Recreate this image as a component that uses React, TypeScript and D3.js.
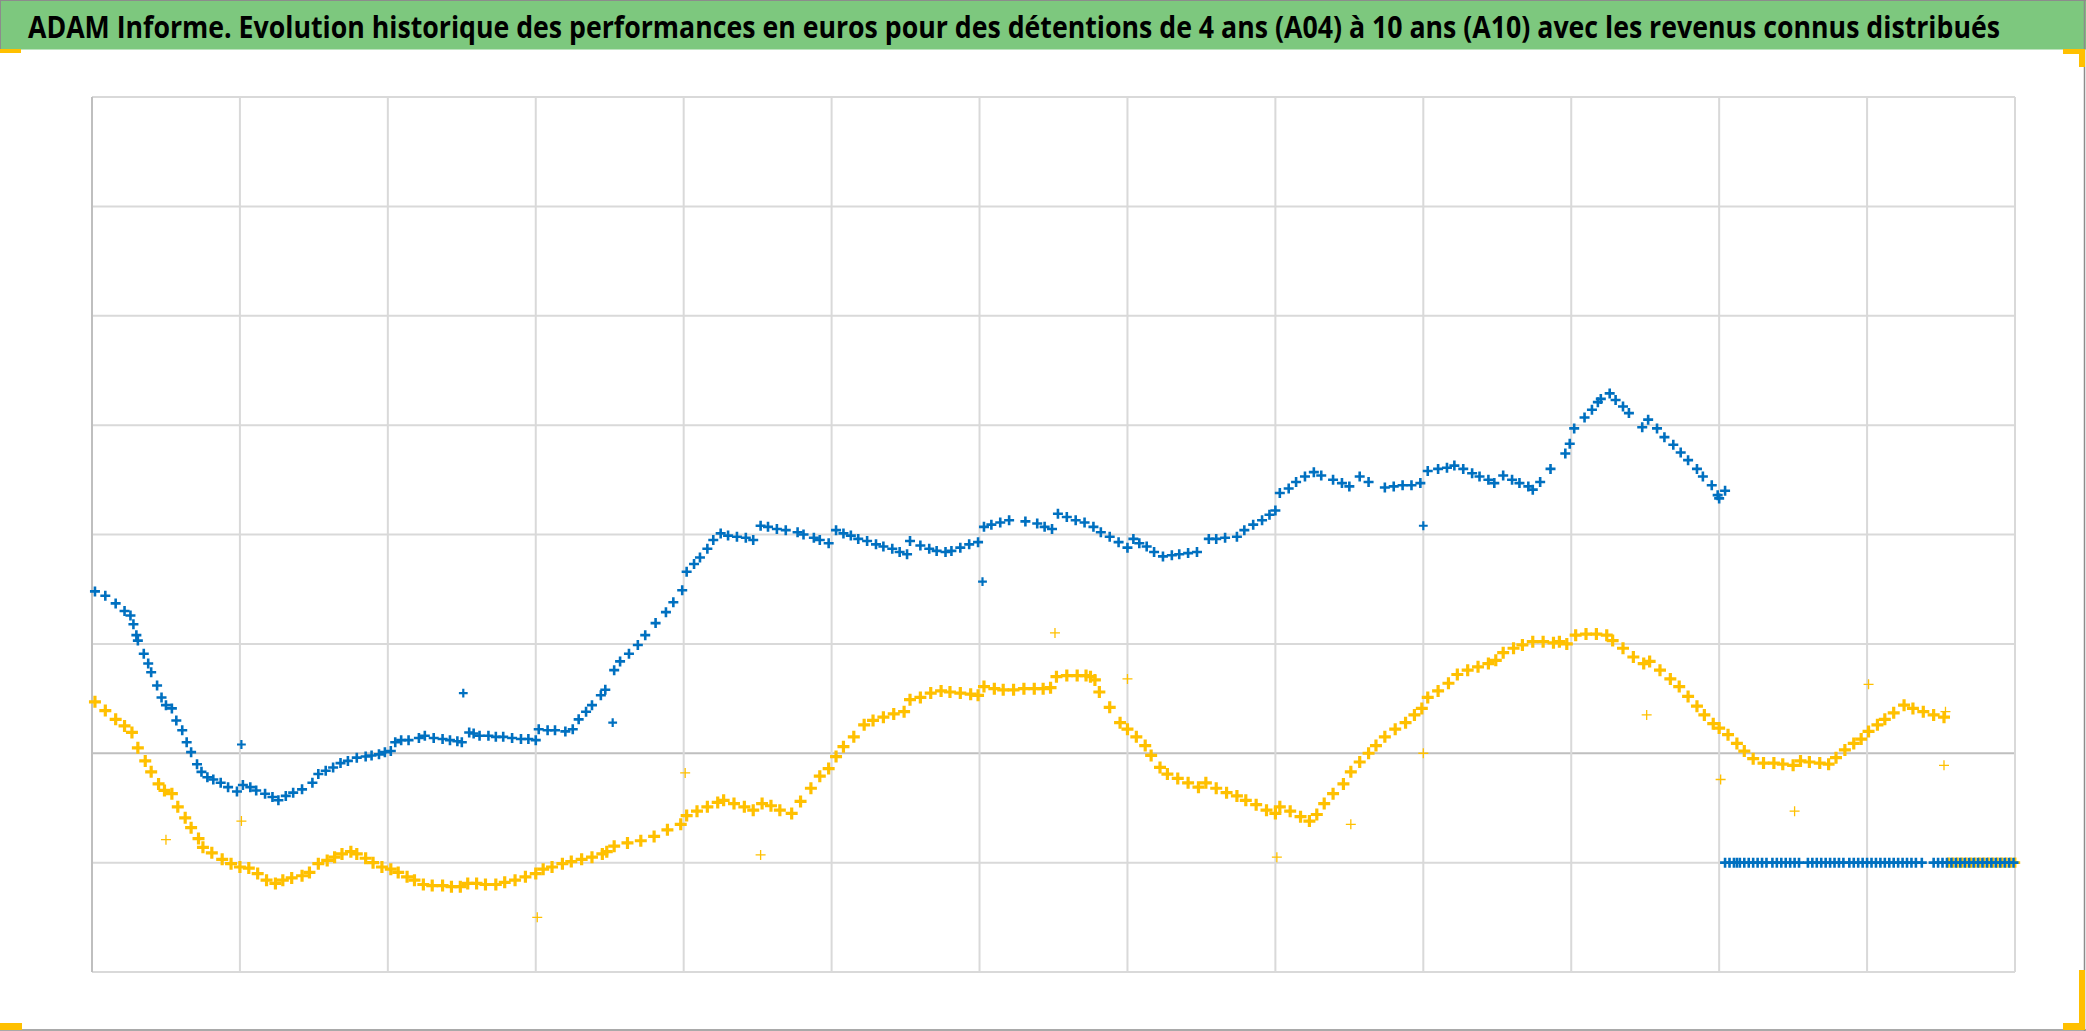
import React from "react";
import * as d3 from "d3";

const TITLE =
  "ADAM Informe. Evolution historique des performances en euros pour des détentions de 4 ans (A04) à 10 ans (A10) avec les revenus connus distribués";

const xTicks = d3.range(0, 1301, 100);
const yTicks = d3.range(-200, 601, 100);

// Series A (blue) : [time index, performance]
const bluePoints: [number, number][] = [
  [2,148],[9,144],[16,137],[22,130],[26,126],[28,118],[30,108],[31,103],[35,91],[38,82],[40,74],[44,62],[47,51],[50,44],[54,41],[57,30],[61,21],[64,10],[67,1],[71,-10],[74,-17],[78,-22],[82,-24],[87,-27],[92,-31],[98,-35],[102,-29],[107,-31],[111,-34],[117,-37],[122,-40],[126,-43],[131,-39],[136,-36],[142,-33],[149,-27],[153,-19],[158,-16],[163,-13],[168,-9],[173,-7],[179,-4],[185,-3],[189,-2],[194,-1],[198,1],[202,2],[205,10],[209,12],[214,12],[221,14],[225,16],[231,14],[237,13],[242,12],[247,11],[250,10],[255,19],[258,18],[262,16],[268,16],[273,15],[278,15],[284,14],[290,13],[295,13],[300,12],[302,22],[308,21],[313,21],[320,20],[325,22],[329,31],[334,38],[338,44],[344,53],[347,58],
  [353,76],[357,84],[363,91],[369,99],[374,108],[381,119],[388,129],[393,138],[399,149],[402,166],[407,173],[411,179],[416,187],[420,195],[425,201],[430,199],[436,198],[442,197],[447,195],[452,208],[457,207],[463,205],[469,204],[477,202],[481,200],[488,197],[492,195],[498,192],[503,204],[508,201],[513,199],[518,196],[524,194],[530,191],[535,189],[541,187],[546,184],[551,182],[553,194],[560,190],[566,187],[571,185],[577,184],[581,185],[587,188],[593,191],[599,193],[603,207],[608,209],[614,211],[620,213],[631,212],[639,210],[644,207],[649,205],[653,219],[659,216],[665,213],[671,211],[677,207],
  [682,202],[688,198],[694,193],[700,188],[704,196],[708,192],[713,189],[718,184],[724,180],[730,181],[735,182],[741,183],[747,184],[755,196],[760,196],[766,197],[774,198],[779,204],[785,209],[791,213],[796,218],[800,222],[803,238],[809,242],[814,248],[820,253],[826,257],[831,254],[839,250],[845,247],[850,244],[857,253],[863,248],[874,243],[880,244],[886,245],[892,245],[898,247],[903,258],[910,260],[916,261],[921,263],[927,260],[933,256],[938,253],[944,250],[948,247],[954,254],[960,250],[965,247],[971,244],[974,241],[979,248],[986,260],[996,274],
  [999,283],[1002,297],[1009,307],[1014,314],[1018,321],[1020,324],[1026,329],[1030,323],[1035,317],[1039,311],[1048,298],[1052,305],[1058,297],[1063,289],[1069,282],[1074,275],[1079,268],[1085,260],[1089,253],[1095,245],[1099,236],[1100,233],[1104,240],
];

const blueFlat: [number, number][] = [
  [1104,-100],[1107,-100],[1110,-100],[1112,-100],[1114,-100],[1117,-100],[1120,-100],[1123,-100],[1126,-100],[1129,-100],[1132,-100],[1136,-100],[1139,-100],[1142,-100],[1145,-100],[1148,-100],[1151,-100],[1154,-100],[1160,-100],[1163,-100],[1166,-100],[1169,-100],[1172,-100],[1175,-100],[1178,-100],[1181,-100],[1184,-100],[1188,-100],[1191,-100],[1194,-100],[1197,-100],[1200,-100],[1203,-100],[1206,-100],[1209,-100],[1212,-100],[1215,-100],[1218,-100],[1221,-100],[1224,-100],[1227,-100],[1230,-100],[1233,-100],[1237,-100],[1245,-100],[1248,-100],[1251,-100],[1254,-100],[1257,-100],[1260,-100],[1263,-100],[1266,-100],[1269,-100],[1272,-100],[1275,-100],[1278,-100],[1281,-100],[1284,-100],[1287,-100],[1290,-100],[1293,-100],[1296,-100],[1299,-100],
];

const blueIncome: [number, number][] = [[101,8],[251,55],[352,28],[602,157],[900,208]];

// Series B (yellow)
const yellowPoints: [number, number][] = [
  [2,47],[9,39],[16,31],[22,25],[27,19],[31,5],[36,-7],[40,-17],[45,-28],[49,-34],[54,-37],[58,-49],[63,-59],[67,-68],[72,-78],[75,-86],[81,-91],[88,-97],[94,-101],[100,-104],[106,-105],[112,-110],[118,-116],[124,-119],[129,-116],[135,-114],[142,-112],[147,-109],[153,-101],[159,-98],[164,-95],[169,-92],[175,-90],[179,-92],[185,-96],[190,-100],[196,-104],[202,-106],[207,-109],[213,-113],[218,-116],[224,-120],[230,-121],[237,-121],[243,-122],[249,-122],[254,-119],[260,-119],[266,-120],[273,-120],[279,-118],[286,-116],[293,-113],[300,-110],[305,-106],[311,-104],[318,-101],[324,-99],[331,-97],[338,-95],[345,-92],
  [348,-90],[353,-85],[362,-82],[371,-80],[380,-76],[389,-70],[398,-65],[402,-57],[409,-53],[416,-49],[423,-45],[427,-43],[434,-46],[441,-49],[447,-52],[453,-46],[459,-48],[465,-52],[473,-55],[479,-44],[486,-32],[492,-21],[498,-14],[503,-3],[508,6],[515,15],[522,26],[528,30],[535,33],[542,36],[549,38],[553,49],[560,51],[567,55],[574,57],[580,56],[587,55],[594,54],[599,53],[603,61],[610,59],[616,58],[623,58],[630,59],[637,59],[643,59],[648,60],[652,70],[659,71],[666,71],[672,71],[675,70],[678,67],
  [681,56],[688,42],[695,28],[700,22],[706,15],[712,7],[716,-2],[722,-13],[727,-19],[734,-23],[741,-27],[748,-31],[753,-27],[760,-32],[767,-36],[774,-39],[780,-43],[787,-47],[794,-52],[800,-55],[803,-49],[810,-53],[817,-58],[823,-62],[828,-56],[833,-46],[839,-37],[846,-28],[851,-17],[857,-8],[863,0],[868,7],[874,15],[881,22],[888,28],[894,35],[899,41],[903,51],[910,57],[917,64],[923,72],[930,76],[937,79],[944,82],[949,85],[954,92],[961,96],[967,99],[974,102],[981,102],[988,101],[992,102],[997,100],
  [1003,108],[1010,109],[1017,109],[1024,108],[1028,103],[1035,96],[1042,88],[1049,82],[1053,84],[1060,76],[1067,68],[1073,61],[1079,52],[1085,43],[1090,35],[1096,27],[1100,23],[1106,17],[1112,9],[1117,2],[1123,-5],[1130,-9],[1137,-9],[1143,-10],[1150,-11],[1155,-7],[1161,-8],[1168,-9],[1174,-10],[1179,-4],[1185,3],[1191,9],[1196,13],[1201,20],[1207,26],[1212,31],[1218,37],[1225,44],[1231,41],[1238,38],[1245,35],[1252,33],
];

const yellowFlat: [number, number][] = [
  [1255,-100],[1258,-100],[1261,-100],[1264,-100],[1267,-100],[1270,-100],[1273,-100],[1276,-100],[1279,-100],[1282,-100],[1285,-100],[1288,-100],[1291,-100],[1294,-100],[1297,-100],[1300,-100],
];

const yellowIncome: [number, number][] = [
  [50,-79],[101,-62],[301,-150],[401,-18],[452,-93],[651,110],[700,68],[801,-95],[851,-65],[900,0],[1051,35],[1101,-24],[1151,-53],[1201,63],[1252,-11],[1253,38],
];

const W = 2086;
const H = 1031;
const BLUE = "#0070C0";
const YELLOW = "#FFC000";
const HANDLE = "#FFC000";

export default function App() {
  const x = d3.scaleLinear().domain([0, 1300]).range([92, 2015]);
  const y = d3.scaleLinear().domain([-200, 600]).range([972, 97]);

  const cross = (s: number) => `M${-s},0H${s}M0,${-s}V${s}`;

  const marks = (pts: [number, number][], color: string, sw: number, s: number, key: string) =>
    pts.map(([a, b], i) => (
      <path
        key={key + i}
        d={cross(s)}
        transform={`translate(${x(a)},${y(b)})`}
        stroke={color}
        strokeWidth={sw}
        fill="none"
      />
    ));

  return (
    <svg
      width={W}
      height={H}
      style={{ position: "absolute", left: 0, top: 0, display: "block", background: "#fff" }}
    >
      <rect x={0} y={0} width={W} height={H} fill="#ffffff" />
      {/* title band */}
      <rect x={0} y={0} width={W} height={49.5} fill="#7DC87E" />
      <g transform="translate(28,38) scale(1,1.22)">
        <text
          x={0}
          y={0}
          fontFamily="'Open Sans', 'Liberation Sans', sans-serif"
          fontWeight={700}
          fontSize={25}
          textLength={1972}
          lengthAdjust="spacingAndGlyphs"
          fill="#000"
        >
          {TITLE}
        </text>
      </g>
      {/* outer border */}
      <line x1={0} x2={W} y1={0.5} y2={0.5} stroke="#8c8c8c" strokeWidth={1} />
      <line x1={0.5} x2={0.5} y1={0} y2={49.5} stroke="#8c8c8c" strokeWidth={1} />
      <line x1={2084.5} x2={2084.5} y1={0} y2={H} stroke="#8c8c8c" strokeWidth={1.5} />
      <line x1={0} x2={W} y1={1030} y2={1030} stroke="#8c8c8c" strokeWidth={1.5} />

      {/* gridlines */}
      {yTicks.map((t) => (
        <line
          key={"gy" + t}
          x1={x(0)}
          x2={x(1300)}
          y1={y(t)}
          y2={y(t)}
          stroke={t === 0 ? "#bfbfbf" : "#d9d9d9"}
          strokeWidth={2}
        />
      ))}
      {xTicks.map((t) => (
        <line
          key={"gx" + t}
          x1={x(t)}
          x2={x(t)}
          y1={y(600)}
          y2={y(-200)}
          stroke={t === 0 ? "#bfbfbf" : "#d9d9d9"}
          strokeWidth={2}
        />
      ))}

      {/* series */}
      {marks(yellowPoints, YELLOW, 3.2, 6, "yp")}
      {marks(yellowIncome, YELLOW, 1.3, 5, "yi")}
      {marks(yellowFlat, YELLOW, 2.8, 5.2, "yf")}
      {marks(bluePoints, BLUE, 2.6, 5, "bp")}
      {marks(blueIncome, BLUE, 2.2, 4.4, "bi")}
      {marks(blueFlat, BLUE, 2.6, 5, "bf")}

      {/* selection handles */}
      <rect x={0} y={49} width={21} height={4} fill={HANDLE} />
      <rect x={2063} y={49} width={22} height={5} fill={HANDLE} />
      <rect x={2079} y={49} width={6} height={18} fill={HANDLE} />
      <rect x={0} y={1023} width={22} height={7} fill={HANDLE} />
      <rect x={2063} y={1023} width={22} height={7} fill={HANDLE} />
      <rect x={2079} y={970} width={6} height={60} fill={HANDLE} />
    </svg>
  );
}
